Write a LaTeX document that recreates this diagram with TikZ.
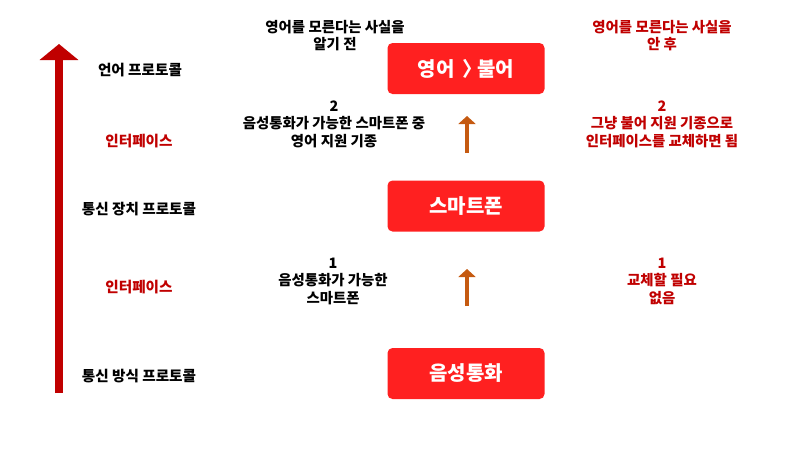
\documentclass[tikz,border=0pt]{standalone}
\usepackage{fontspec}
\setmainfont{Noto Sans CJK KR}
\usetikzlibrary{arrows.meta}
\definecolor{boxred}{RGB}{255,32,32}
\definecolor{darkred}{RGB}{192,0,0}
\definecolor{arroworange}{RGB}{197,90,17}
\tikzset{
  box/.style={fill=boxred, rounded corners=5pt, minimum width=157pt, minimum height=51pt,
    text=white, font=\bfseries\fontsize{20}{24}\selectfont, inner sep=0pt},
  lbl/.style={align=center, font=\bfseries\fontsize{14.4}{17.5}\selectfont, inner sep=0pt},
  redlbl/.style={lbl, text=darkred},
  sidelbl/.style={lbl, font=\bfseries\fontsize{14.6}{17.5}\selectfont},
  redside/.style={sidelbl, text=darkred},
  bigarrow/.style={draw=darkred, line width=8pt, -{Triangle[width=38pt,length=16pt]}},
  smallarrow/.style={draw=arroworange, line width=4pt, -{Triangle[width=17pt,length=8pt]}}
}
\begin{document}
\begin{tikzpicture}[x=1pt,y=-1pt]
\useasboundingbox (0,0) rectangle (800,450);
% big arrow
\coordinate (bigS) at (59,393);
\coordinate (bigE) at (59,44);
\draw[bigarrow] (bigS) -- (bigE);
% left labels
\node[sidelbl] (l1) at (140,70) {언어 프로토콜};
\node[redside] (l2) at (139,141) {인터페이스};
\node[sidelbl] (l3) at (139,209) {통신 장치 프로토콜};
\node[redside] (l4) at (139,287) {인터페이스};
\node[sidelbl] (l5) at (139,376) {통신 방식 프로토콜};
% boxes
\node[box] (lang) at (466,68.5) {영어\hspace{0.4em}〉\hspace{-0.25em}불어};
\node[box] (phone) at (466,206) {스마트폰};
\node[box] (voice) at (466,373.5) {음성통화};
% small arrows
\coordinate (s2a) at (467,153);
\coordinate (s2b) at (467,116);
\coordinate (s1a) at (467,306);
\coordinate (s1b) at (467,269);
\draw[smallarrow] (s2a) -- (s2b);
\draw[smallarrow] (s1a) -- (s1b);
% middle texts
\node[lbl] (m0) at (335,35.5) {영어를 모른다는 사실을\\알기 전};
\node[lbl] (m2) at (334,124) {2\\음성통화가 가능한 스마트폰 중\\영어 지원 기종};
\node[lbl] (m1) at (333,281) {1\\음성통화가 가능한\\스마트폰};
% right texts
\node[redlbl] (r0) at (662,35.5) {영어를 모른다는 사실을\\안 후};
\node[redlbl] (r2) at (662,124) {2\\그냥 불어 지원 기종으로\\인터페이스를 교체하면 됨};
\node[redlbl] (r1) at (662,281) {1\\교체할 필요\\없음};
\end{tikzpicture}
\end{document}
